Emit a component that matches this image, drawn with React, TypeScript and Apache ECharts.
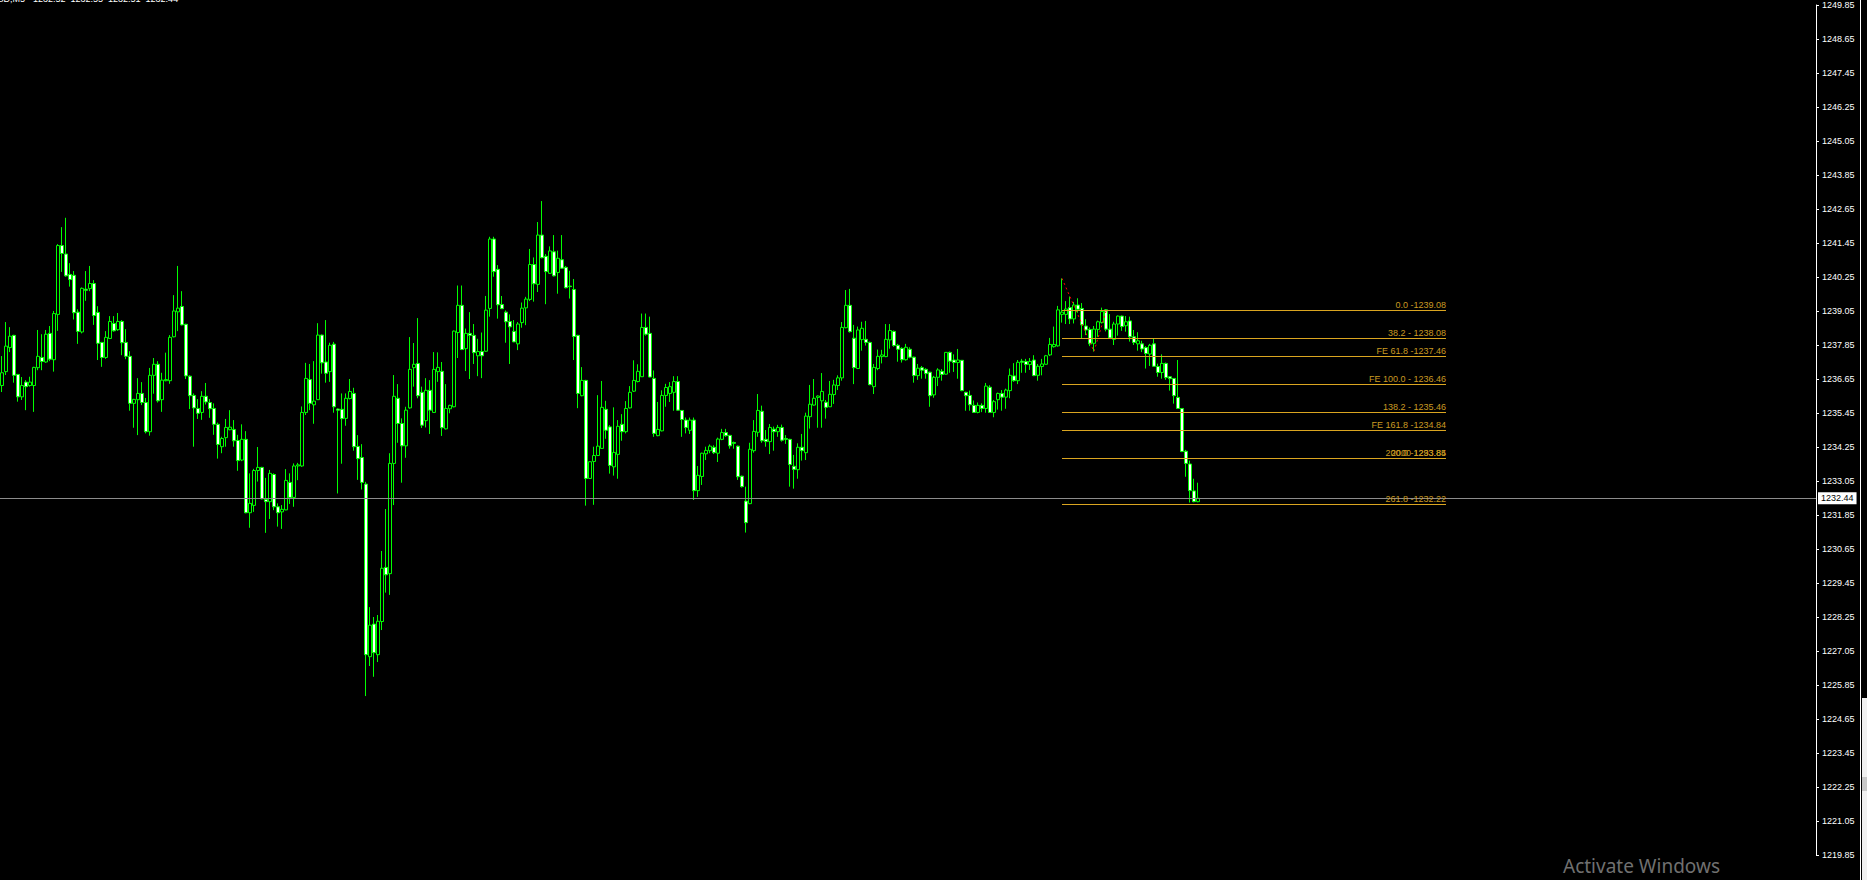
import React, { useEffect, useRef } from "react";
import * as echarts from "echarts";

// Right price scale labels, bottom to top
const priceTicks = [
  "1219.85", "1221.05", "1222.25", "1223.45", "1224.65", "1225.85", "1227.05", "1228.25",
  "1229.45", "1230.65", "1231.85", "1233.05", "1234.25", "1235.45", "1236.65", "1237.85",
  "1239.05", "1240.25", "1241.45", "1242.65", "1243.85", "1245.05", "1246.25", "1247.45",
  "1248.65", "1249.85",
];
const priceMin = 1219.85;
const priceMax = 1249.85;

// M5 candles: [open, close, low, high]
const ohlc: number[][] = [
  [1236.42, 1236.87, 1236.19, 1237.46], [1236.91, 1237.81, 1236.79, 1238.66], [1237.76, 1238.16, 1237.60, 1238.48],
  [1238.19, 1236.78, 1236.52, 1238.21], [1236.81, 1236.02, 1235.85, 1236.83], [1236.02, 1236.42, 1235.91, 1236.72],
  [1236.54, 1236.38, 1235.55, 1236.61], [1236.42, 1236.54, 1236.38, 1236.73], [1236.42, 1237.06, 1235.49, 1237.08],
  [1237.05, 1237.45, 1236.96, 1238.38], [1237.41, 1237.27, 1236.96, 1238.23], [1237.25, 1238.23, 1237.22, 1238.38],
  [1238.26, 1237.35, 1237.28, 1238.52], [1237.33, 1238.96, 1236.91, 1239.05], [1238.93, 1241.36, 1238.35, 1241.41],
  [1241.36, 1241.08, 1240.43, 1242.01], [1241.06, 1240.29, 1240.26, 1242.34], [1240.34, 1240.16, 1239.91, 1240.74],
  [1240.31, 1238.99, 1238.75, 1240.46], [1239.01, 1238.33, 1237.89, 1239.11], [1238.31, 1239.85, 1238.26, 1239.88],
  [1239.82, 1239.78, 1239.41, 1240.46], [1239.84, 1240.02, 1239.75, 1240.64], [1240.02, 1238.89, 1238.56, 1240.14],
  [1239.00, 1237.91, 1237.32, 1239.22], [1237.94, 1237.41, 1237.08, 1237.96], [1237.41, 1238.12, 1237.36, 1238.34],
  [1238.08, 1238.68, 1238.06, 1238.87], [1238.61, 1238.35, 1238.32, 1238.87], [1238.39, 1238.68, 1238.35, 1238.98],
  [1238.68, 1237.93, 1237.49, 1238.73], [1237.94, 1237.45, 1237.35, 1238.41], [1237.45, 1235.79, 1235.53, 1237.63],
  [1235.79, 1235.93, 1234.93, 1235.95], [1235.92, 1236.14, 1234.67, 1236.68], [1236.14, 1235.82, 1235.73, 1236.54],
  [1235.82, 1234.79, 1234.73, 1235.98], [1234.79, 1236.78, 1234.65, 1237.04], [1236.78, 1237.17, 1236.13, 1237.39],
  [1237.17, 1235.88, 1235.82, 1237.28], [1235.92, 1236.61, 1235.49, 1236.87], [1236.59, 1236.63, 1236.57, 1237.58],
  [1236.59, 1238.12, 1236.48, 1238.20], [1238.14, 1239.05, 1238.12, 1239.61], [1239.02, 1239.15, 1238.34, 1240.64],
  [1239.21, 1238.56, 1238.54, 1239.75], [1238.58, 1236.76, 1236.65, 1238.60], [1236.75, 1236.06, 1235.59, 1236.78],
  [1236.07, 1235.63, 1234.26, 1236.14], [1235.61, 1235.44, 1235.24, 1235.94], [1235.47, 1236.04, 1235.21, 1236.22],
  [1236.04, 1235.84, 1235.75, 1236.51], [1235.82, 1235.60, 1235.28, 1235.94], [1235.61, 1235.05, 1234.68, 1235.79],
  [1235.05, 1234.34, 1233.84, 1235.11], [1234.26, 1234.55, 1234.03, 1234.61], [1234.58, 1234.94, 1234.26, 1235.24],
  [1234.86, 1234.95, 1234.84, 1235.55], [1234.87, 1234.47, 1234.26, 1235.20], [1234.48, 1233.77, 1233.41, 1234.68],
  [1233.79, 1234.52, 1233.75, 1235.05], [1234.52, 1231.93, 1231.91, 1234.81], [1231.93, 1232.26, 1231.40, 1233.32],
  [1232.19, 1233.42, 1231.96, 1233.48], [1233.42, 1233.53, 1233.03, 1234.25], [1233.53, 1232.42, 1232.40, 1233.55],
  [1232.40, 1232.32, 1231.22, 1233.16], [1232.32, 1233.32, 1231.71, 1233.44], [1233.28, 1232.14, 1232.02, 1233.32],
  [1232.14, 1231.93, 1231.44, 1232.26], [1231.96, 1232.05, 1231.36, 1232.20], [1232.03, 1233.07, 1232.02, 1233.47],
  [1233.00, 1232.47, 1232.24, 1233.32], [1232.47, 1233.58, 1232.14, 1233.67], [1233.58, 1233.62, 1233.08, 1233.69],
  [1233.58, 1235.47, 1233.55, 1235.68], [1235.47, 1236.67, 1235.38, 1237.22], [1236.63, 1235.79, 1235.55, 1237.18],
  [1235.74, 1235.87, 1235.07, 1237.28], [1235.92, 1238.20, 1235.91, 1238.62], [1238.20, 1237.22, 1236.84, 1238.22],
  [1237.25, 1236.85, 1236.52, 1238.73], [1236.91, 1237.84, 1236.55, 1237.93], [1237.88, 1235.67, 1235.46, 1237.96],
  [1235.59, 1235.55, 1232.61, 1235.61], [1235.58, 1235.25, 1233.66, 1236.14], [1235.26, 1235.97, 1235.00, 1236.14],
  [1235.96, 1236.21, 1235.93, 1236.65], [1236.14, 1234.26, 1234.12, 1236.34], [1234.27, 1233.84, 1233.09, 1234.67],
  [1233.88, 1233.00, 1232.75, 1234.35], [1232.94, 1226.92, 1225.46, 1233.02], [1226.85, 1227.96, 1226.52, 1228.60],
  [1228.00, 1226.99, 1226.14, 1228.25], [1226.92, 1228.10, 1226.66, 1228.32], [1228.09, 1229.97, 1227.79, 1230.58],
  [1230.00, 1229.74, 1229.11, 1232.06], [1229.78, 1233.67, 1229.03, 1234.03], [1233.67, 1236.04, 1232.20, 1236.79],
  [1235.97, 1235.08, 1234.40, 1236.47], [1235.08, 1234.29, 1232.99, 1235.26], [1234.29, 1235.55, 1233.87, 1235.67],
  [1235.63, 1236.99, 1235.60, 1238.13], [1237.05, 1237.17, 1236.38, 1237.92], [1237.20, 1236.06, 1235.97, 1238.80],
  [1236.18, 1235.02, 1234.92, 1236.38], [1235.18, 1236.25, 1234.94, 1236.68], [1236.25, 1235.55, 1234.71, 1236.61],
  [1235.47, 1236.99, 1235.45, 1237.60], [1236.91, 1237.06, 1236.55, 1237.59], [1236.92, 1234.93, 1234.64, 1237.25],
  [1234.89, 1235.61, 1234.87, 1236.47], [1235.60, 1235.72, 1235.44, 1235.74], [1235.67, 1238.34, 1235.65, 1238.36],
  [1238.29, 1239.25, 1237.39, 1239.95], [1239.25, 1237.69, 1237.67, 1239.95], [1237.72, 1238.26, 1236.93, 1238.43],
  [1238.26, 1238.19, 1236.65, 1239.01], [1238.19, 1237.58, 1237.18, 1238.59], [1237.47, 1237.62, 1236.75, 1238.07],
  [1237.62, 1237.47, 1236.68, 1238.29], [1237.63, 1239.08, 1237.61, 1239.58], [1239.14, 1241.59, 1238.85, 1241.67],
  [1241.59, 1240.44, 1240.26, 1241.67], [1240.52, 1239.27, 1238.78, 1240.67], [1239.28, 1239.13, 1239.12, 1239.58],
  [1239.01, 1238.67, 1237.93, 1239.07], [1238.68, 1238.49, 1237.18, 1238.93], [1238.33, 1237.96, 1237.95, 1238.73],
  [1237.89, 1238.59, 1237.67, 1238.66], [1238.64, 1239.15, 1238.46, 1239.35], [1239.16, 1239.47, 1238.55, 1239.55],
  [1239.46, 1240.69, 1239.40, 1241.24], [1240.69, 1240.01, 1239.38, 1240.94], [1239.99, 1241.73, 1239.72, 1242.19],
  [1241.73, 1240.93, 1240.91, 1242.93], [1240.98, 1240.44, 1239.29, 1241.06], [1240.38, 1241.17, 1240.36, 1241.33],
  [1241.14, 1240.29, 1240.27, 1241.73], [1240.41, 1240.91, 1239.66, 1241.18], [1240.86, 1240.56, 1240.54, 1241.73],
  [1240.59, 1239.87, 1239.85, 1240.64], [1239.93, 1239.91, 1239.49, 1240.47], [1239.81, 1238.15, 1237.32, 1240.18],
  [1238.19, 1236.14, 1235.62, 1238.21], [1236.06, 1236.60, 1236.04, 1237.07], [1236.60, 1233.14, 1232.18, 1236.62],
  [1233.14, 1233.73, 1233.12, 1233.75], [1233.74, 1233.95, 1232.21, 1234.26], [1233.95, 1234.28, 1233.93, 1236.08],
  [1234.20, 1235.65, 1234.19, 1236.58], [1235.58, 1234.84, 1234.54, 1235.88], [1234.96, 1233.60, 1233.31, 1235.02],
  [1233.55, 1234.06, 1233.24, 1235.65], [1233.99, 1234.98, 1233.13, 1235.20], [1235.05, 1234.79, 1234.47, 1235.41],
  [1234.79, 1235.61, 1234.73, 1235.87], [1235.63, 1236.18, 1235.61, 1236.40], [1236.22, 1236.60, 1236.19, 1237.31],
  [1236.56, 1236.92, 1236.53, 1237.17], [1236.73, 1238.47, 1236.72, 1238.96], [1238.47, 1238.23, 1238.18, 1238.96],
  [1238.26, 1236.72, 1236.71, 1238.85], [1236.67, 1234.73, 1234.61, 1236.95], [1234.65, 1234.87, 1234.63, 1235.84],
  [1234.82, 1236.07, 1234.80, 1236.25], [1236.07, 1236.35, 1235.67, 1236.48], [1236.14, 1236.38, 1235.84, 1236.54],
  [1236.18, 1236.56, 1235.53, 1236.75], [1236.56, 1235.55, 1235.53, 1236.75], [1235.54, 1235.22, 1234.61, 1235.55],
  [1235.20, 1234.94, 1234.73, 1235.29], [1234.84, 1235.20, 1234.71, 1235.29], [1235.20, 1232.71, 1232.38, 1235.29],
  [1232.71, 1233.25, 1232.49, 1233.58], [1233.21, 1234.03, 1232.91, 1234.05], [1234.01, 1234.13, 1233.79, 1234.26],
  [1234.12, 1234.28, 1234.03, 1234.34], [1234.24, 1234.05, 1234.00, 1234.31], [1234.03, 1234.53, 1233.72, 1234.58],
  [1234.52, 1234.76, 1234.49, 1234.89], [1234.76, 1234.65, 1234.61, 1234.89], [1234.66, 1234.29, 1234.19, 1234.68],
  [1234.41, 1234.38, 1234.19, 1234.44], [1234.28, 1233.20, 1233.09, 1234.30], [1233.22, 1232.85, 1232.82, 1233.24],
  [1232.34, 1231.58, 1231.23, 1232.85], [1232.25, 1234.17, 1232.23, 1234.40], [1234.12, 1234.80, 1234.05, 1235.20],
  [1234.77, 1235.54, 1234.61, 1236.12], [1235.51, 1234.47, 1234.40, 1235.71], [1234.52, 1234.44, 1234.26, 1234.85],
  [1234.44, 1234.94, 1234.00, 1235.06], [1234.88, 1234.79, 1234.12, 1234.97], [1234.79, 1234.94, 1234.61, 1235.03],
  [1234.94, 1234.49, 1234.44, 1235.04], [1234.55, 1234.52, 1234.36, 1234.67], [1234.52, 1233.63, 1232.85, 1234.54],
  [1233.57, 1233.46, 1232.78, 1233.97], [1233.45, 1234.24, 1233.13, 1234.38], [1234.24, 1234.12, 1233.77, 1234.71],
  [1234.05, 1235.34, 1233.79, 1235.46], [1235.32, 1235.76, 1234.90, 1236.44], [1235.73, 1235.97, 1235.71, 1236.65],
  [1236.00, 1236.05, 1234.93, 1236.07], [1235.88, 1236.21, 1234.93, 1236.86], [1235.83, 1235.65, 1235.25, 1235.91],
  [1235.67, 1236.11, 1235.66, 1236.58], [1236.10, 1236.44, 1235.77, 1236.62], [1236.42, 1236.69, 1236.26, 1236.78],
  [1236.69, 1238.47, 1236.59, 1238.66], [1238.46, 1239.25, 1238.44, 1239.79], [1239.25, 1238.32, 1238.29, 1239.83],
  [1238.09, 1237.05, 1236.47, 1238.56], [1237.02, 1238.38, 1237.00, 1238.50], [1238.04, 1238.44, 1237.65, 1238.67],
  [1238.05, 1237.94, 1237.83, 1238.70], [1237.94, 1236.45, 1236.43, 1237.97], [1236.38, 1237.06, 1236.12, 1237.18],
  [1237.02, 1237.45, 1236.96, 1237.69], [1237.44, 1237.50, 1237.20, 1237.68], [1237.44, 1238.05, 1237.42, 1238.59],
  [1238.03, 1238.36, 1237.72, 1238.59], [1238.33, 1237.83, 1237.79, 1238.36], [1237.84, 1237.70, 1237.26, 1237.89],
  [1237.73, 1237.33, 1237.23, 1237.77], [1237.33, 1237.77, 1237.30, 1237.89], [1237.70, 1237.42, 1237.38, 1237.77],
  [1237.42, 1236.77, 1236.52, 1237.44], [1236.77, 1237.03, 1236.62, 1237.18], [1237.05, 1236.96, 1236.66, 1237.11],
  [1236.99, 1236.84, 1236.66, 1237.03], [1236.89, 1236.06, 1235.67, 1236.91], [1236.09, 1236.71, 1235.99, 1236.76],
  [1236.71, 1236.97, 1236.40, 1237.03], [1236.92, 1236.81, 1236.59, 1237.00], [1236.82, 1237.59, 1236.81, 1237.60],
  [1237.59, 1237.28, 1236.87, 1237.62], [1237.32, 1237.23, 1236.90, 1237.52], [1237.23, 1237.32, 1236.66, 1237.71],
  [1237.31, 1236.24, 1236.22, 1237.32], [1236.18, 1236.06, 1235.53, 1236.20], [1236.07, 1235.74, 1235.53, 1236.24],
  [1235.72, 1235.47, 1235.46, 1235.89], [1235.47, 1235.72, 1235.44, 1235.82], [1235.72, 1235.61, 1235.48, 1235.79],
  [1235.61, 1236.40, 1235.46, 1236.51], [1236.36, 1235.47, 1235.46, 1236.43], [1235.47, 1235.85, 1235.30, 1235.91],
  [1235.92, 1236.14, 1235.57, 1236.17], [1236.14, 1236.01, 1235.53, 1236.26], [1236.01, 1236.26, 1235.60, 1236.31],
  [1236.24, 1236.78, 1235.97, 1237.02], [1236.76, 1236.59, 1236.55, 1237.21], [1236.59, 1237.24, 1236.47, 1237.32],
  [1237.28, 1237.24, 1236.87, 1237.36], [1237.27, 1237.16, 1236.87, 1237.36], [1237.16, 1237.27, 1236.97, 1237.39],
  [1237.32, 1236.77, 1236.75, 1237.49], [1236.78, 1237.10, 1236.59, 1237.18], [1237.09, 1237.18, 1236.78, 1237.36],
  [1237.17, 1237.47, 1237.16, 1237.50], [1237.50, 1237.87, 1237.46, 1238.10], [1237.79, 1237.87, 1237.76, 1238.50],
  [1237.82, 1239.09, 1237.79, 1239.23], [1238.93, 1239.01, 1238.64, 1240.20], [1238.93, 1239.12, 1238.59, 1239.40],
  [1239.17, 1238.77, 1238.59, 1239.56], [1238.77, 1239.26, 1238.61, 1239.37], [1239.26, 1239.11, 1238.99, 1239.50],
  [1239.14, 1238.56, 1238.09, 1239.33], [1238.52, 1238.38, 1238.20, 1238.76], [1238.40, 1237.89, 1237.81, 1238.47],
  [1237.91, 1238.41, 1237.62, 1238.52], [1238.40, 1238.67, 1238.14, 1238.71], [1238.64, 1239.03, 1238.61, 1239.17],
  [1239.09, 1238.41, 1238.33, 1239.12], [1238.41, 1238.10, 1238.09, 1238.94], [1238.05, 1238.59, 1237.85, 1238.67],
  [1238.59, 1238.87, 1238.18, 1238.89], [1238.87, 1238.50, 1238.35, 1238.89], [1238.53, 1238.67, 1238.32, 1238.87],
  [1238.70, 1238.14, 1237.97, 1238.85], [1238.14, 1237.94, 1237.85, 1238.38], [1237.89, 1238.00, 1237.65, 1238.30],
  [1237.89, 1237.71, 1237.60, 1238.00], [1237.76, 1237.55, 1237.02, 1237.81], [1237.53, 1237.84, 1237.11, 1237.89],
  [1237.89, 1237.10, 1237.09, 1238.07], [1237.09, 1236.88, 1236.73, 1237.19], [1236.88, 1237.20, 1236.66, 1237.52],
  [1237.20, 1236.70, 1236.62, 1237.23], [1236.73, 1236.66, 1236.24, 1236.74], [1236.67, 1236.06, 1235.78, 1236.68],
  [1236.00, 1235.61, 1235.59, 1237.32], [1235.61, 1234.09, 1234.07, 1235.62], [1234.10, 1233.67, 1233.20, 1234.15],
  [1233.65, 1232.71, 1232.29, 1233.77], [1232.70, 1232.32, 1232.30, 1233.13], [1232.32, 1232.44, 1232.30, 1232.99],
];

// number of bar slots visible in the window (incl. chart shift space)
const slotCount = 454;
const categories = Array.from({ length: slotCount }, (_, i) => String(i));

const currentPrice = 1232.44;
const headerSymbol = "XAUUSD,M5";
const headerValues = ["1232.52", "1232.55", "1232.51", "1232.44"];

// Fibonacci tools
const fibStartIndex = 265;
const fibEndIndex = 360.5;
const fibLevels = [1239.08, 1238.08, 1237.46, 1236.46, 1235.46, 1234.84, 1233.84, 1233.84, 1232.22];
const fibLabels = [
  "0.0 -1239.08", "38.2 - 1238.08", "FE 61.8 -1237.46", "FE 100.0 - 1236.46", "138.2 - 1235.46",
  "FE 161.8 -1234.84", "200.0 -1233.84", "2000 1293.85", "261.8 -1232.22",
];
// expansion points A-B-C (bar index, price)
const fibTrend: number[][] = [[265, 1240.20], [273, 1237.62], [276, 1239.04]];

const FONT = "'Liberation Sans', Arial, sans-serif";

export default function App() {
  const ref = useRef<HTMLDivElement>(null);
  useEffect(() => {
    document.body.style.margin = "0";
    document.body.style.background = "#000";
    const chart = echarts.init(ref.current!, undefined, { renderer: "svg" });
    const gold = "#DAA520";
    const option: any = {
      animation: false,
      backgroundColor: "#000000",
      grid: { left: 0, top: 5, width: 1816, height: 850, containLabel: false },
      xAxis: {
        type: "category",
        data: categories,
        boundaryGap: true,
        show: false,
      },
      yAxis: [
        { type: "value", min: priceMin, max: priceMax, show: false, scale: true },
        {
          type: "value",
          min: 0,
          max: priceTicks.length - 1,
          interval: 1,
          position: "right",
          axisLine: { show: true, lineStyle: { color: "#ffffff", width: 1 } },
          axisTick: { show: true, inside: false, length: 3, lineStyle: { color: "#ffffff" } },
          splitLine: { show: false },
          axisLabel: {
            show: true,
            color: "#ffffff",
            fontFamily: FONT,
            fontSize: 9,
            margin: 6,
            showMinLabel: true,
            showMaxLabel: true,
            formatter: (v: number) => priceTicks[Math.round(v)] ?? "",
          },
        },
      ],
      series: [
        {
          type: "candlestick",
          yAxisIndex: 0,
          data: ohlc,
          barWidth: 3,
          itemStyle: {
            color: "#000000",
            color0: "#ffffff",
            borderColor: "#00ff00",
            borderColor0: "#00ff00",
            borderColorDoji: "#00ff00",
            borderWidth: 1,
          },
          markLine: {
            silent: true,
            symbol: "none",
            animation: false,
            lineStyle: { color: "#8c8c8c", type: "solid", width: 1 },
            label: {
              show: true,
              position: "end",
              distance: 2,
              formatter: currentPrice.toFixed(2),
              color: "#000000",
              backgroundColor: "#ffffff",
              fontFamily: FONT,
              fontSize: 9,
              padding: [2, 3, 1, 3],
            },
            data: [{ yAxis: currentPrice }],
          },
          z: 3,
        },
        {
          type: "line",
          yAxisIndex: 0,
          data: fibTrend,
          symbol: "none",
          lineStyle: { color: "#ff0000", width: 1, type: [2, 3] },
          z: 4,
          markLine: {
            silent: true,
            symbol: "none",
            animation: false,
            lineStyle: { color: gold, type: "solid", width: 1 },
            label: {
              show: true,
              position: "insideEndTop",
              distance: [0, 1],
              color: "#C99A22",
              fontFamily: FONT,
              fontSize: 9,
            },
            data: fibLevels.map((lv, k) => [
              { coord: [fibStartIndex, lv], label: { formatter: fibLabels[k] } },
              { coord: [fibEndIndex, lv] },
            ]),
          },
        },
      ],
      graphic: [
        {
          type: "text",
          x: 25,
          y: 3,
          style: {
            text: headerSymbol,
            fill: "#ffffff",
            font: `9px ${FONT}`,
            textAlign: "right",
            textVerticalAlign: "bottom",
          },
        },
        {
          type: "text",
          x: 33,
          y: 3,
          style: {
            text: headerValues.join("  "),
            fill: "#ffffff",
            font: `9px ${FONT}`,
            textAlign: "left",
            textVerticalAlign: "bottom",
          },
        },
        {
          type: "line",
          shape: { x1: 1860.5, y1: 0, x2: 1860.5, y2: 880 },
          style: { stroke: "#ffffff", lineWidth: 1 },
        },
        {
          type: "rect",
          shape: { x: 1862, y: 698, width: 5, height: 182 },
          style: { fill: "#f0f0f0" },
        },
        {
          type: "rect",
          shape: { x: 1862, y: 777, width: 5, height: 14 },
          style: { fill: "#c8c8c8" },
        },
        {
          type: "text",
          x: 1563,
          y: 866,
          style: {
            text: "Activate Windows",
            fill: "#707070",
            font: `19px 'Noto Sans', 'Open Sans', sans-serif`,
            textVerticalAlign: "middle",
          },
        },
      ],
    };
    chart.setOption(option);
    return () => chart.dispose();
  }, []);
  return (
    <div
      ref={ref}
      style={{ position: "absolute", left: 0, top: 0, width: 1867, height: 880, background: "#000" }}
    />
  );
}
